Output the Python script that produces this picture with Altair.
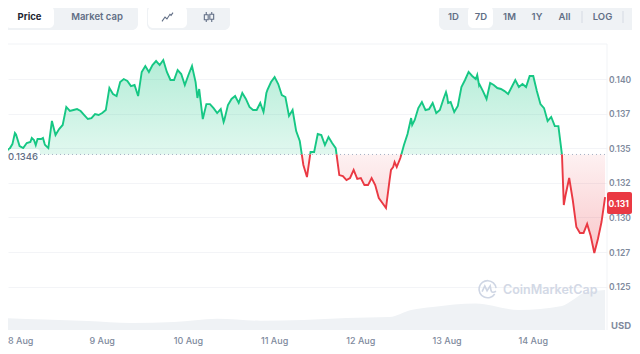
import altair as alt
import pandas as pd

# Hourly price, starting 7 Aug 20:00
price = [
 .13465,.13516,.13487,.13530,.13600,.13516,.13501,.13538,.13545,.13560,
 .13567,.13567,.13530,.13501,.13697,.13595,.13639,.13668,.13798,.13769,
 .13776,.13783,.13769,.13740,.13711,.13718,.13747,.13740,.13754,.13776,
 .13935,.13892,.13877,.13978,.14000,.13986,.13949,.13957,.13877,.14051,
 .14094,.14051,.14101,.14130,.14101,.14137,.14051,.13993,.13993,.14065,
 .14036,.13957,.14029,.14094,.13978,.13928,.13711,.13819,.13819,.13790,
 .13754,.13783,.13704,.13812,.13856,.13877,.13827,.13899,.13856,.13798,
 .13776,.13776,.13827,.13776,.13921,.13978,.14014,.13964,.13884,.13870,
 .13733,.13776,.13624,.13552,.13379,.13292,.13473,.13473,.13603,.13595,
 .13523,.13581,.13538,.13501,.13306,.13299,.13270,.13285,.13343,.13278,
 .13285,.13234,.13234,.13285,.13234,.13140,.13104,.13068,.13270,.13364,
 .13364,.13429,.13523,.13603,.13718,.13704,.13790,.13834,.13776,.13783,
 .13827,.13754,.13776,.13856,.13877,.13834,.13762,.13805,.13942,.13993,
 .14051,.14022,.14000,.13964,.13913,.13856,.13971,.13957,.13935,.13928,
 .13913,.13892,.13942,.13993,.13942,.13964,.13942,.14022,.14022,.13913,
 .13819,.13790,.13697,.13726,.13660,.13660,.13451,.13162,.13285,.13126,
 .12931,.12888,.12888,.12953,.12866,.12743,.12845,.12967,.13147,
]
# Short spikes between the hours, also
spike_hours = [-0.3,4.4,5.5,7.5,8.1,50.5,57.8,68.9,69.7,104.4,105.4,110.3,119.7,120.3,128.4,128.9,152.5]
spike_price = [.13610,.13574,.13523,.13574,.13523,.13863,.13689,.13762,.13899,.13343,.13400,
               .13668,.13906,.13827,.14029,.13957,.13090]
baseline = 0.13455
volume_hours = [-4,8,20,32,44,56,68,80,92,104,110,116,128,140,152,155,158,161,164]
volume = [12,10.5,9,7,8,11.3,9.3,10,12,13,20,23,26.5,20,24,30,37,39,40]
y_ticks = [.125,.1275,.13,.1325,.135,.1375,.14]
day_labels = ["8 Aug","9 Aug","10 Aug","11 Aug","12 Aug","13 Aug","14 Aug"]

START = pd.Timestamp("2024-08-08", tz="UTC")
def ms(h):
    return int((START + pd.Timedelta(hours=h)).timestamp() * 1000)
def iso(h):
    return (START + pd.Timedelta(hours=h)).strftime("%Y-%m-%dT%H:%M:%SZ")

series = sorted([(i - 4.0, p) for i, p in enumerate(price)] + list(zip(spike_hours, spike_price)))
rows, seg = [], 0
for i, (h, p) in enumerate(series):
    if i:
        h0, q = series[i - 1]
        if (q - baseline) * (p - baseline) < 0:
            t = h0 + (h - h0) * (baseline - q) / (p - q)
            rows.append({"t": iso(t), "p": baseline, "s": seg, "side": "up" if q > baseline else "down"})
            seg += 1
            rows.append({"t": iso(t), "p": baseline, "s": seg, "side": "up" if p > baseline else "down"})
    rows.append({"t": iso(h), "p": p, "s": seg, "side": "up" if p >= baseline else "down"})
df = pd.DataFrame(rows)
df["hi"] = df.p.clip(lower=baseline)
df["lo"] = df.p.clip(upper=baseline)
df["b"] = baseline
vol = pd.DataFrame({"t": [iso(h) for h in volume_hours], "v": volume})
days = pd.DataFrame({"t": [iso(24 * i) for i in range(1, len(day_labels))], "label": day_labels[1:]})

PX0, PY0 = 8, 44          # page position of the plot origin
GREEN, RED = "#16c784", "#ea3943"
GREY, DARK, LABEL = "#616e85", "#222531", "#808a9d"
FONT = "Inter"

xdom = [ms(-2.227), ms(164.53)]
X = alt.X("t:T", scale=alt.Scale(type="utc", domain=xdom), axis=None, title=None)
ydom = [0.12187, 0.14253]
Y = lambda f: alt.Y(f + ":Q", scale=alt.Scale(domain=ydom), axis=None, title=None)
one = alt.Data(values=[{"a": 1}])

def grad(stops):
    return alt.Gradient(gradient="linear", x1=0, x2=0, y1=0, y2=1,
                        stops=[alt.GradientStop(color=c, offset=o) for o, c in stops])

def box(x0, x1, y0, y1, color, r=0):
    return alt.Chart(one).mark_rect(color=color, cornerRadius=r).encode(
        x=alt.value(x0 - PX0), x2=alt.value(x1 - PX0), y=alt.value(y0 - PY0), y2=alt.value(y1 - PY0))

def txt(s, x, y, color=GREY, size=10, weight=600, align="center"):
    return alt.Chart(one).mark_text(text=s, color=color, fontSize=size, fontWeight=weight, font=FONT,
                                    align=align, baseline="middle").encode(
        x=alt.value(x - PX0), y=alt.value(y - PY0))

def icon(path, x, y, span, color=GREY, sw=1.1):
    return alt.Chart(one).mark_point(shape=path, size=span * span, filled=False, stroke=color,
                                     strokeWidth=sw, opacity=1).encode(
        x=alt.value(x - PX0), y=alt.value(y - PY0))

def vrule(x, y0, y1, color):
    return alt.Chart(one).mark_rule(color=color, strokeWidth=1).encode(
        x=alt.value(x - PX0), y=alt.value(y0 - PY0), y2=alt.value(y1 - PY0))

def hrule(x0, x1, y, color):
    return alt.Chart(one).mark_rule(color=color, strokeWidth=1).encode(
        x=alt.value(x0 - PX0), x2=alt.value(x1 - PX0), y=alt.value(y - PY0))

axis_y = alt.Axis(orient="right", values=y_ticks, title=None, domain=False, ticks=False, grid=True,
                  gridColor="#f3f4f7", gridWidth=1, labelPadding=1.5, labelColor=LABEL, labelFont=FONT,
                  labelFontSize=8.5, labelFontWeight=600, labelOverlap=False,
                  labelExpr="format(floor(datum.value * 1000 + 0.000001) / 1000, '.3f')")

volume_area = alt.Chart(vol).mark_area(color="#eff2f5", interpolate="monotone").encode(
    x=X, y=alt.Y("v:Q", scale=alt.Scale(domain=[0, 286]), axis=None, title=None))

area_up = alt.Chart(df).mark_area(fill=grad([(0, "rgba(22,199,132,0.32)"), (1, "rgba(22,199,132,0.13)")])).encode(
    x=X,
    y=alt.Y("hi:Q", scale=alt.Scale(domain=ydom), axis=axis_y, title=None),
    y2="b:Q")
area_down = alt.Chart(df).mark_area(fill=grad([(0, "rgba(234,57,67,0.07)"), (1, "rgba(234,57,67,0.28)")])).encode(
    x=X, y=Y("b"), y2="lo:Q")

base_rule = alt.Chart(one).mark_rule(color="#a6b0c3", strokeDash=[1, 3], strokeWidth=1).encode(
    x=alt.value(0), x2=alt.value(599), y=alt.Y("b:Q", scale=alt.Scale(domain=ydom), axis=None, title=None)
).transform_calculate(b=str(baseline))

line_up = alt.Chart(df[df.side == "up"]).mark_line(color=GREEN, strokeWidth=1.9).encode(x=X, y=Y("p"), detail="s:N")
line_down = alt.Chart(df[df.side == "down"]).mark_line(color=RED, strokeWidth=1.9).encode(x=X, y=Y("p"), detail="s:N")

day_text = alt.Chart(days).mark_text(color=LABEL, fontSize=9, fontWeight=500, font=FONT, baseline="middle").encode(
    x=X, y=alt.value(341 - PY0), text="label:N")

logo = ("M0.8,0.55 A0.95,0.95 0 1 1 0.95,-0.1 "
        "M-0.6,0.3 L-0.3,-0.35 L-0.05,0.2 L0.3,-0.35 L0.4,0.2 Q0.5,0.5 0.95,0.25")
line_icon = "M-1,0.8 L-0.45,0 L-0.1,0.35 L0.45,-0.5 L0.65,-0.3 L1,-0.8"
candle_icon = ("M-0.85,-0.4 H-0.15 V0.5 H-0.85 Z M-0.5,-0.9 V-0.4 M-0.5,0.5 V0.9 "
               "M0.15,-0.5 H0.85 V0.4 H0.15 Z M0.5,-0.9 V-0.5 M0.5,0.4 V0.9")

layers = [
    volume_area, area_up, area_down, base_rule, line_up, line_down, day_text,
    hrule(8, 607, 44, "#f1f3f6"), vrule(607, 44, 330, "#f1f3f6"),
    box(8, 40, 149, 164, "rgba(255,255,255,0.85)", 3),
    txt("0.1346", 8, 157, GREY, 9.5, 500, "left"),
    txt(day_labels[0], 8, 341, LABEL, 9, 500, "left"),
    txt("CoinMarketCap", 503, 290, "#d3d9e6", 12.5, 600, "left"),
    icon(logo, 487.5, 289, 18, "#cfd6e4", 1.6),
    box(607, 632, 192, 214, RED, 2),
    txt("0.131", 608.5, 203.5, "#ffffff", 8.5, 700, "left"),
    txt("USD", 631, 326, LABEL, 9.5, 700, "right"),
    # buttons
    box(3, 138, 4, 30, "#eff2f5", 6), box(5, 54, 6, 28, "#ffffff", 5),
    txt("Price", 29.5, 17, DARK, 9.5, 700), txt("Market cap", 97, 17, GREY, 9.5, 600),
    box(147, 230, 4, 30, "#eff2f5", 6), box(148, 187, 6, 28, "#ffffff", 5),
    icon(line_icon, 167.5, 17, 11), icon(candle_icon, 209, 17, 11),
    box(439, 640, 4, 30, "#eff2f5", 6), box(468, 493, 6, 28, "#ffffff", 5),
    txt("1D", 453.5, 17, GREY, 9.5), txt("7D", 481, 17, GREY, 9.5), txt("1M", 509.5, 17, GREY, 9.5),
    txt("1Y", 537, 17, GREY, 9.5), txt("All", 564.5, 17, GREY, 9.5), txt("LOG", 602.5, 17, GREY, 9.5),
    vrule(582, 11, 23, "#d5dae3"), vrule(623, 11, 23, "#d5dae3"),
]

chart = alt.layer(*layers).resolve_scale(y="independent").properties(
    width=599, height=286,
    padding={"left": 0, "top": 36, "right": 25, "bottom": 16},
    autosize=alt.AutoSizeParams(type="none"),
    background="#ffffff",
).configure_view(stroke=None)

chart.save("out.html", embed_options={"renderer": "svg", "actions": False})
